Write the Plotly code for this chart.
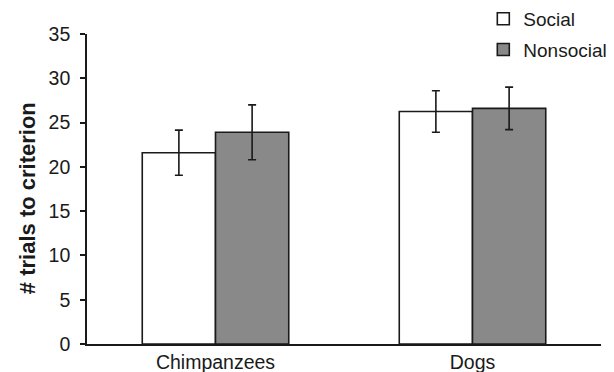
import plotly.graph_objects as go

categories = ["Chimpanzees", "Dogs"]
social_mean = [21.6, 26.25]
social_err = [2.55, 2.35]
nonsocial_mean = [23.9, 26.6]
nonsocial_err = [3.1, 2.4]
y_ticks = [0, 5, 10, 15, 20, 25, 30, 35]

FONT = "Liberation Sans, Arial, sans-serif"
INK = "#1a1a1a"

fig = go.Figure()
fig.add_trace(go.Bar(
    name="Social", x=categories, y=social_mean, legendgroup="s",
    marker=dict(color="white", line=dict(color=INK, width=1.6)),
    error_y=dict(type="data", array=social_err, visible=True, color=INK, thickness=1.6, width=4),
))
fig.add_trace(go.Bar(
    name="Nonsocial", x=categories, y=nonsocial_mean, legendgroup="n",
    marker=dict(color="#898989", line=dict(color=INK, width=1.6)),
    error_y=dict(type="data", array=nonsocial_err, visible=True, color=INK, thickness=1.6, width=4),
))

fig.update_layout(
    width=614, height=372,
    margin=dict(l=87, r=13, t=34, b=28, autoexpand=False),
    paper_bgcolor="white", plot_bgcolor="white",
    barmode="group", bargap=0.43, bargroupgap=0,
    font=dict(family=FONT, color=INK),
    showlegend=True,
    legend=dict(
        x=1.022, xanchor="right", y=1.11, yanchor="top",
        font=dict(size=19, family=FONT, color=INK),
        bgcolor="rgba(0,0,0,0)", traceorder="grouped", tracegroupgap=3,
        itemwidth=30,
    ),
    xaxis=dict(
        showline=True, linecolor=INK, linewidth=1.6, ticks="",
        tickfont=dict(size=19.5, family=FONT, color=INK), showgrid=False,
        zeroline=False,
    ),
    yaxis=dict(
        range=[0, 35], tickvals=y_ticks, showline=True, linecolor=INK, linewidth=1.6,
        ticks="outside", ticklen=5, tickwidth=1.6, tickcolor=INK, ticklabelstandoff=6,
        tickfont=dict(size=19.5, family=FONT, color=INK), showgrid=False, zeroline=False,
    ),
    annotations=[dict(
        text="# trials to criterion", textangle=-90, showarrow=False,
        xref="paper", yref="paper", x=-0.117, y=0.47, xanchor="center", yanchor="middle",
        font=dict(size=22, family=FONT, color=INK, weight="bold"),
    )],
)

fig.write_html(
    "out.html",
    config={"displayModeBar": False},
    post_script="document.body.style.margin='0';document.body.style.padding='0';",
)
